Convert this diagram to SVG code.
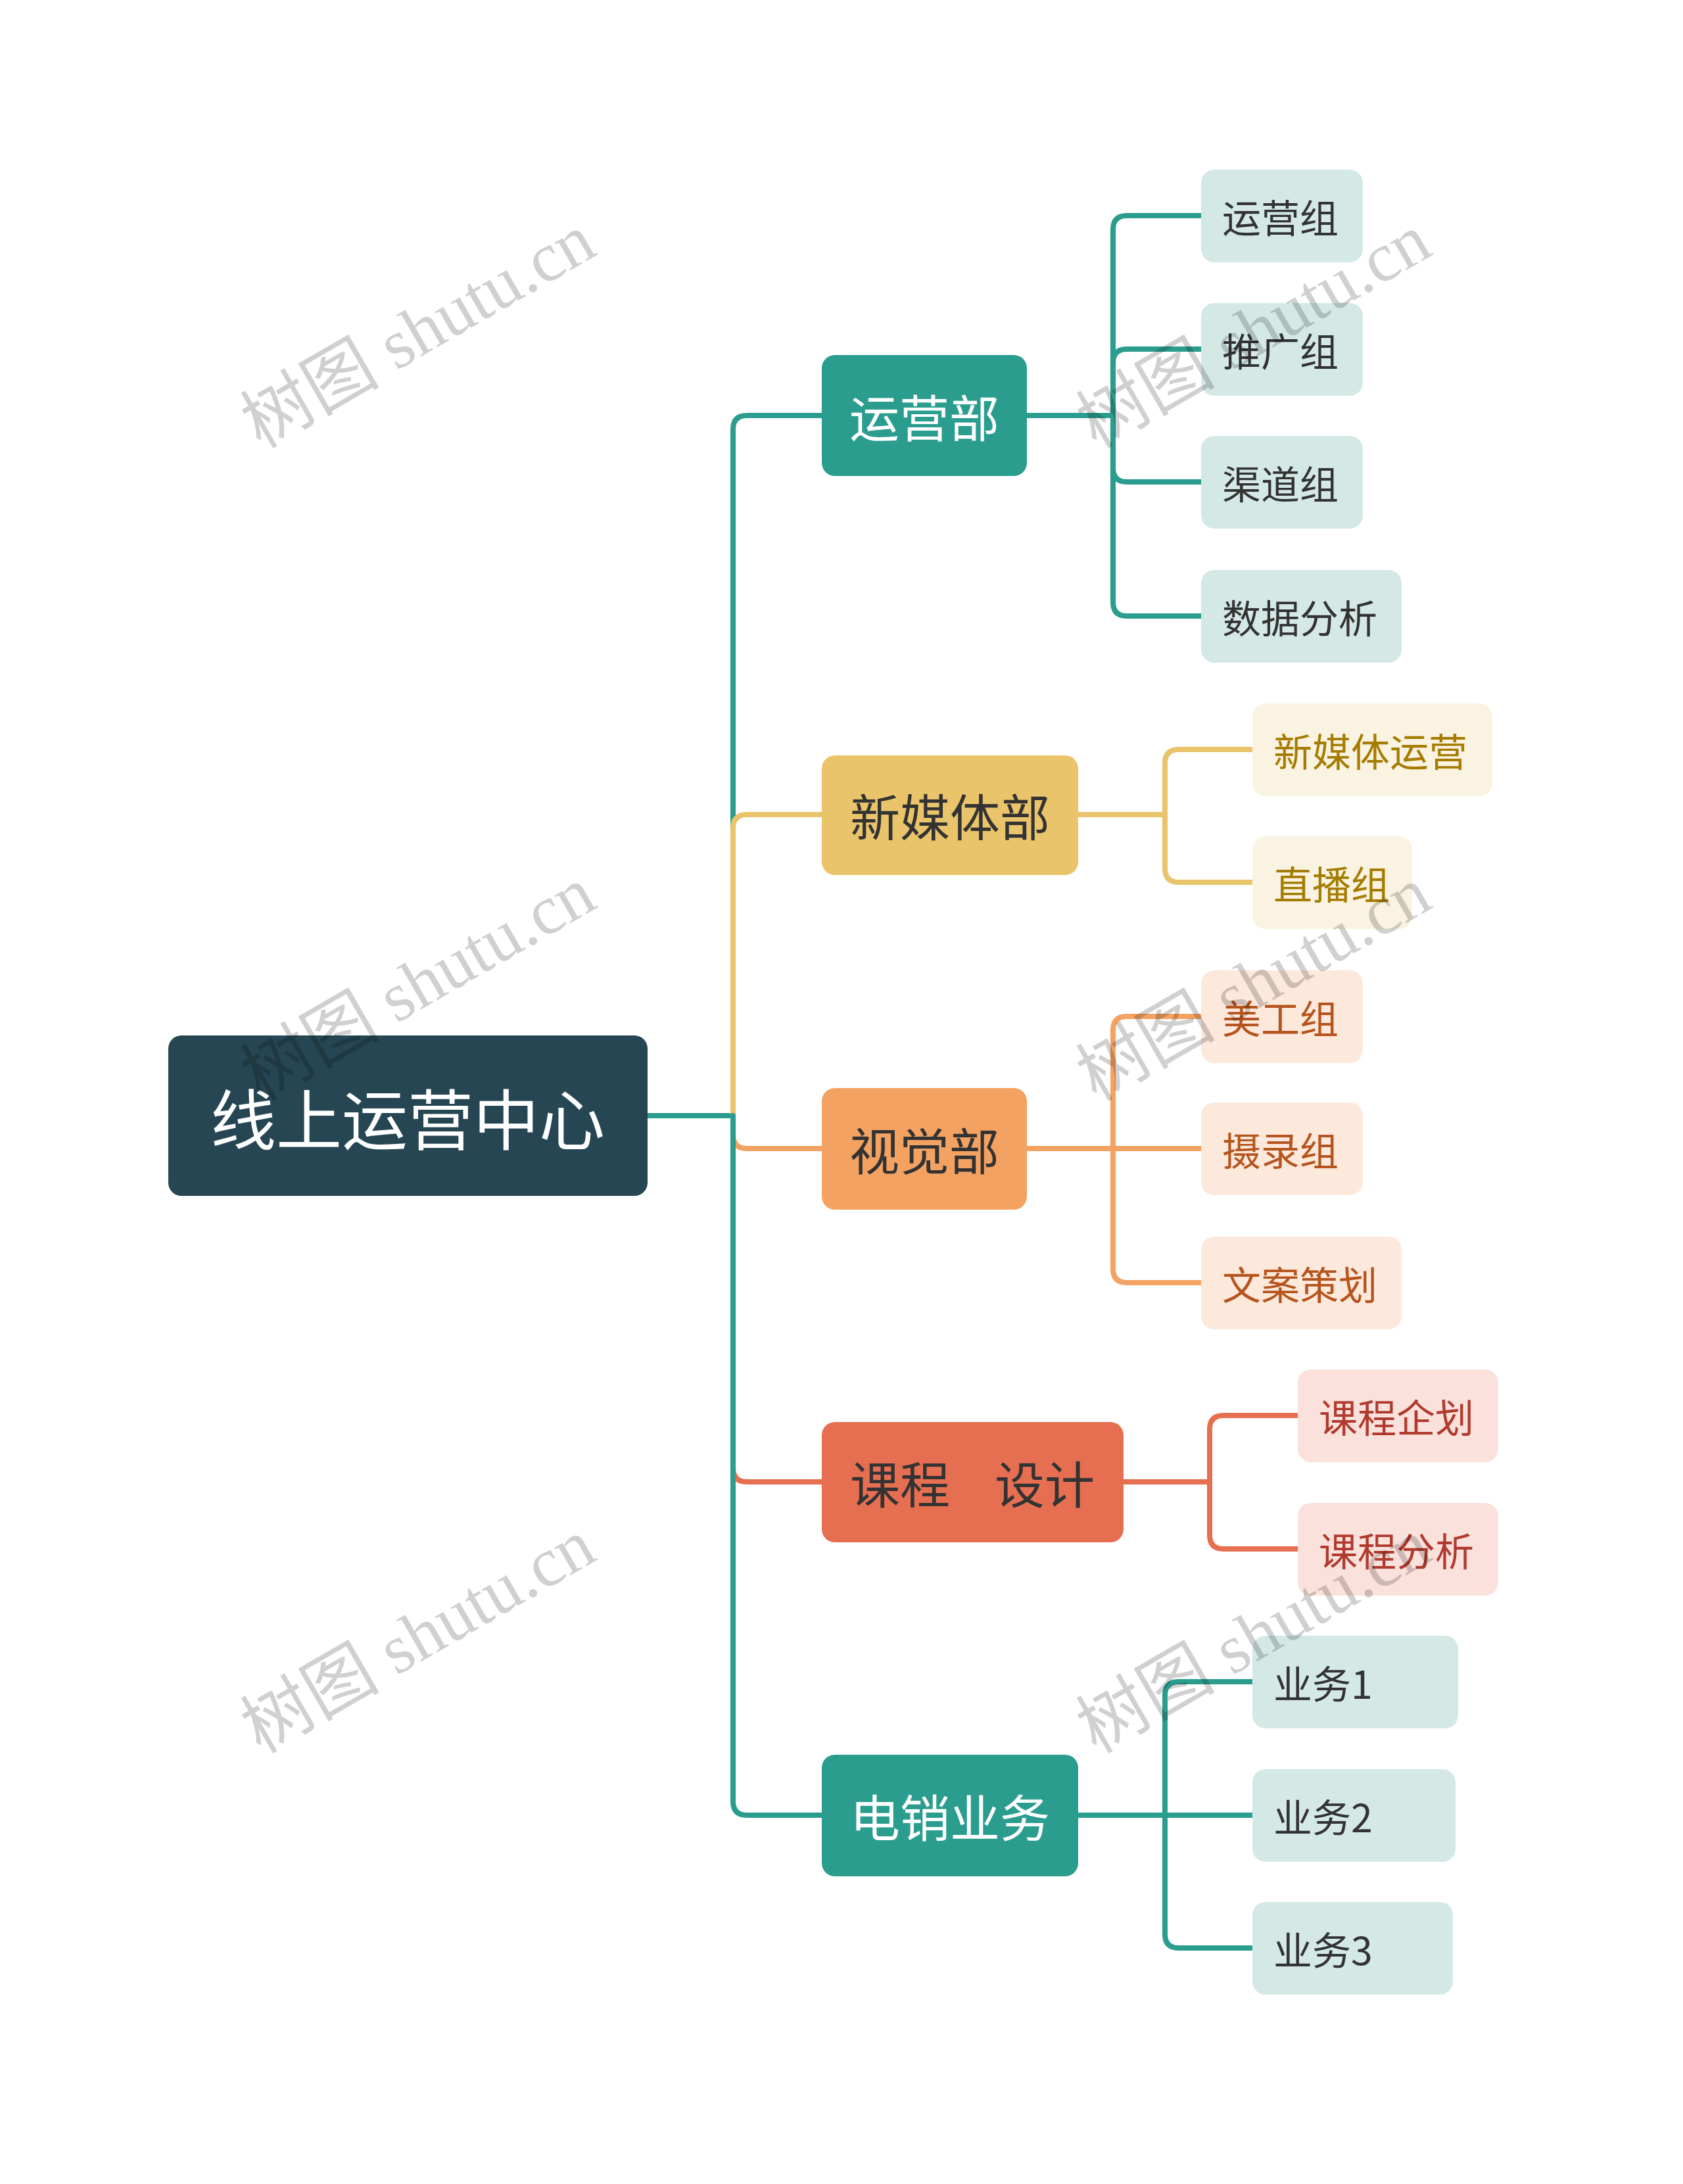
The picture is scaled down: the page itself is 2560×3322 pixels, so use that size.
<svg xmlns="http://www.w3.org/2000/svg" width="2560" height="3322" viewBox="0 0 2560 3322">
<style>
.c{fill:none;stroke-width:8;stroke-linecap:round}
.t{stroke:#2a9d8f}.y{stroke:#e9c46a}.o{stroke:#f4a261}.r{stroke:#e76f51}
text{font-family:"Noto Sans CJK SC","Noto Sans",sans-serif;dominant-baseline:central}
.l1{font-size:76px;text-anchor:middle}
.l2{font-size:59px}
.wm{font-family:"Liberation Serif","Noto Sans CJK SC",serif;font-size:106px;fill:#000;opacity:0.18;text-anchor:middle}
</style>
<rect width="2560" height="3322" fill="#fff"/>
<g id="connectors">
<path class="c t" d="M985 1697 H1115"/>
<path class="c t" d="M1115 1697 V653 Q1115 632 1136 632 H1250"/>
<path class="c y" d="M1115 1697 V1260 Q1115 1239 1136 1239 H1250"/>
<path class="c o" d="M1115 1697 V1726 Q1115 1747 1136 1747 H1250"/>
<path class="c r" d="M1115 1697 V2233 Q1115 2254 1136 2254 H1250"/>
<path class="c t" d="M1115 1697 V2740 Q1115 2761 1136 2761 H1250"/>
<path class="c t" d="M1562 632 H1693 M1693 632 V349 Q1693 328 1714 328 H1827 M1693 632 V552 Q1693 531 1714 531 H1827 M1693 632 V712 Q1693 733 1714 733 H1827 M1693 632 V916 Q1693 937 1714 937 H1827"/>
<path class="c y" d="M1640 1239 H1772 M1772 1239 V1161 Q1772 1140 1793 1140 H1905 M1772 1239 V1321 Q1772 1342 1793 1342 H1905"/>
<path class="c o" d="M1562 1747 H1827 M1693 1747 V1567 Q1693 1546 1714 1546 H1827 M1693 1747 V1930 Q1693 1951 1714 1951 H1827"/>
<path class="c r" d="M1709 2254 H1840 M1840 2254 V2174 Q1840 2153 1861 2153 H1974 M1840 2254 V2335 Q1840 2356 1861 2356 H1974"/>
<path class="c t" d="M1640 2761 H1905 M1772 2761 V2579 Q1772 2558 1793 2558 H1905 M1772 2761 V2942 Q1772 2963 1793 2963 H1905"/>
</g>
<g id="root"><rect x="256" y="1575" width="729" height="244" rx="20" fill="#264653"/><text x="620" y="1697" font-size="100" fill="#fff" text-anchor="middle">线上运营中心</text></g>
<g id="n1"><rect x="1250" y="540" width="312" height="184" rx="20" fill="#2a9d8f"/><text class="l1" x="1406" y="632" fill="#fff">运营部</text></g>
<g id="n2"><rect x="1250" y="1149" width="390" height="182" rx="20" fill="#e9c46a"/><text class="l1" x="1445" y="1239" fill="#333">新媒体部</text></g>
<g id="n3"><rect x="1250" y="1655" width="312" height="185" rx="20" fill="#f4a261"/><text class="l1" x="1406" y="1747" fill="#333">视觉部</text></g>
<g id="n4"><rect x="1250" y="2163" width="459" height="183" rx="20" fill="#e76f51"/><text class="l1" x="1479" y="2254" fill="#333" xml:space="preserve">课程    设计</text></g>
<g id="n5"><rect x="1250" y="2669" width="390" height="185" rx="20" fill="#2a9d8f"/><text class="l1" x="1445" y="2761" fill="#fff">电销业务</text></g>
<g fill="#d4e9e6">
<g id="a1"><rect x="1827" y="258" width="246" height="141" rx="20"/><text class="l2" x="1859" y="328" fill="#333">运营组</text></g>
<g id="a2"><rect x="1827" y="461" width="246" height="141" rx="20"/><text class="l2" x="1859" y="531" fill="#333">推广组</text></g>
<g id="a3"><rect x="1827" y="663" width="246" height="141" rx="20"/><text class="l2" x="1859" y="733" fill="#333">渠道组</text></g>
<g id="a4"><rect x="1827" y="867" width="305" height="141" rx="20"/><text class="l2" x="1859" y="937" fill="#333">数据分析</text></g>
<g id="e1"><rect x="1905" y="2488" width="313" height="141" rx="20"/><text class="l2" x="1937" y="2558" fill="#333">业务1</text></g>
<g id="e2"><rect x="1905" y="2691" width="309" height="141" rx="20"/><text class="l2" x="1937" y="2761" fill="#333">业务2</text></g>
<g id="e3"><rect x="1905" y="2893" width="305" height="141" rx="20"/><text class="l2" x="1937" y="2963" fill="#333">业务3</text></g>
</g>
<g fill="#faf3e1">
<g id="b1"><rect x="1905" y="1070" width="365" height="141" rx="20"/><text class="l2" x="1937" y="1140" fill="#a57c00">新媒体运营</text></g>
<g id="b2"><rect x="1905" y="1272" width="243" height="141" rx="20"/><text class="l2" x="1937" y="1342" fill="#a57c00">直播组</text></g>
</g>
<g fill="#fde8dc">
<g id="c1"><rect x="1827" y="1476" width="246" height="141" rx="20"/><text class="l2" x="1859" y="1546" fill="#b5541c">美工组</text></g>
<g id="c2"><rect x="1827" y="1677" width="246" height="141" rx="20"/><text class="l2" x="1859" y="1747" fill="#b5541c">摄录组</text></g>
<g id="c3"><rect x="1827" y="1881" width="305" height="141" rx="20"/><text class="l2" x="1859" y="1951" fill="#b5541c">文案策划</text></g>
</g>
<g fill="#fae1dc">
<g id="d1"><rect x="1974" y="2083" width="305" height="141" rx="20"/><text class="l2" x="2006" y="2153" fill="#b03a2e">课程企划</text></g>
<g id="d2"><rect x="1974" y="2286" width="305" height="141" rx="20"/><text class="l2" x="2006" y="2356" fill="#b03a2e">课程分析</text></g>
</g>
<g id="watermarks">
<text class="wm" transform="translate(636 504) rotate(-30)">树图 shutu.cn</text>
<text class="wm" transform="translate(636 1497) rotate(-30)">树图 shutu.cn</text>
<text class="wm" transform="translate(636 2489) rotate(-30)">树图 shutu.cn</text>
<text class="wm" transform="translate(1907 504) rotate(-30)">树图 shutu.cn</text>
<text class="wm" transform="translate(1907 1497) rotate(-30)">树图 shutu.cn</text>
<text class="wm" transform="translate(1907 2489) rotate(-30)">树图 shutu.cn</text>
</g>
</svg>
